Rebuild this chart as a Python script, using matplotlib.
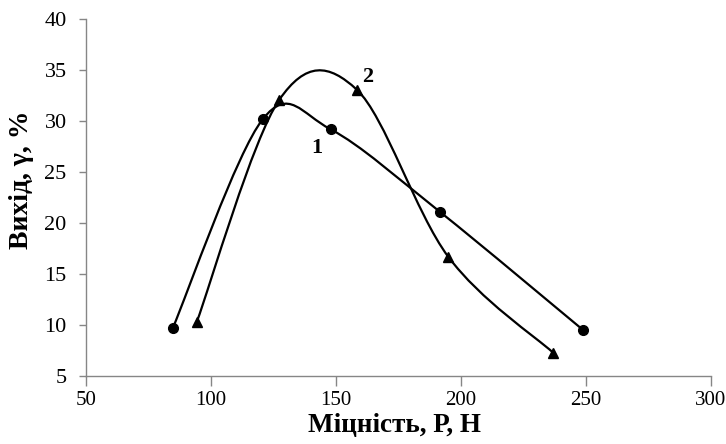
import numpy as np
import matplotlib.pyplot as plt
from matplotlib.path import Path
from matplotlib.patches import PathPatch

plt.rcParams['font.family'] = ['Liberation Serif', 'DejaVu Serif']

# values
x1 = [84.7, 120.7, 147.9, 191.6, 248.9]
y1 = [9.7, 30.2, 29.2, 21.1, 9.5]
x2 = [94.3, 127.3, 158.3, 194.9, 236.8]
y2 = [10.3, 32.1, 33.1, 16.7, 7.3]
xticks = [50, 100, 150, 200, 250, 300]
yticks = [5, 10, 15, 20, 25, 30, 35, 40]


# smoothed line like Excel (Catmull-Rom as cubic Bezier)
def smooth_path(xs, ys):
    p = np.column_stack([xs, ys]).astype(float)
    n = len(p)
    verts = [p[0]]
    codes = [Path.MOVETO]
    for i in range(n - 1):
        p0 = p[i - 1] if i > 0 else p[i]
        p3 = p[i + 2] if i + 2 < n else p[i + 1]
        c1 = p[i] + (p[i + 1] - p0) / 6
        c2 = p[i + 1] - (p3 - p[i]) / 6
        verts += [c1, c2, p[i + 1]]
        codes += [Path.CURVE4] * 3
    return Path(verts, codes)


fig = plt.figure(figsize=(7.26, 4.44), dpi=100)
ax = fig.add_axes([0.1185, 0.1532, 0.8608, 0.8033])

for xs, ys, m in [(x1, y1, 'o'), (x2, y2, '^')]:
    ax.add_patch(PathPatch(smooth_path(xs, ys), fill=False, ec='black', lw=1.6))
    ax.plot(xs, ys, linestyle='none', marker=m, color='black', markersize=7)

ax.text(142.4, 27.4, '1', fontsize=16, fontweight='bold', ha='center', va='center')
ax.text(162.8, 34.3, '2', fontsize=16, fontweight='bold', ha='center', va='center')

ax.set_xlim(50, 300)
ax.set_ylim(5, 40)
ax.set_xticks(xticks)
ax.set_yticks(yticks)
ax.tick_params(color='#868686', width=1)
ax.tick_params(axis='y', length=5, pad=9, labelsize=16)
ax.tick_params(axis='x', length=7, pad=4, labelsize=15)
for s in ['top', 'right']:
    ax.spines[s].set_visible(False)
for s in ['left', 'bottom']:
    ax.spines[s].set_color('#868686')
    ax.spines[s].set_linewidth(1)

ax.set_xlabel('Міцність, Р, Н', fontsize=19.5, fontweight='bold')
ax.set_ylabel('Вихід, γ, %', fontsize=20, fontweight='bold')
ax.xaxis.set_label_coords(0.494, -0.105)
ax.yaxis.set_label_coords(-0.083, 0.55)

fig.savefig('out.png', dpi=100)
